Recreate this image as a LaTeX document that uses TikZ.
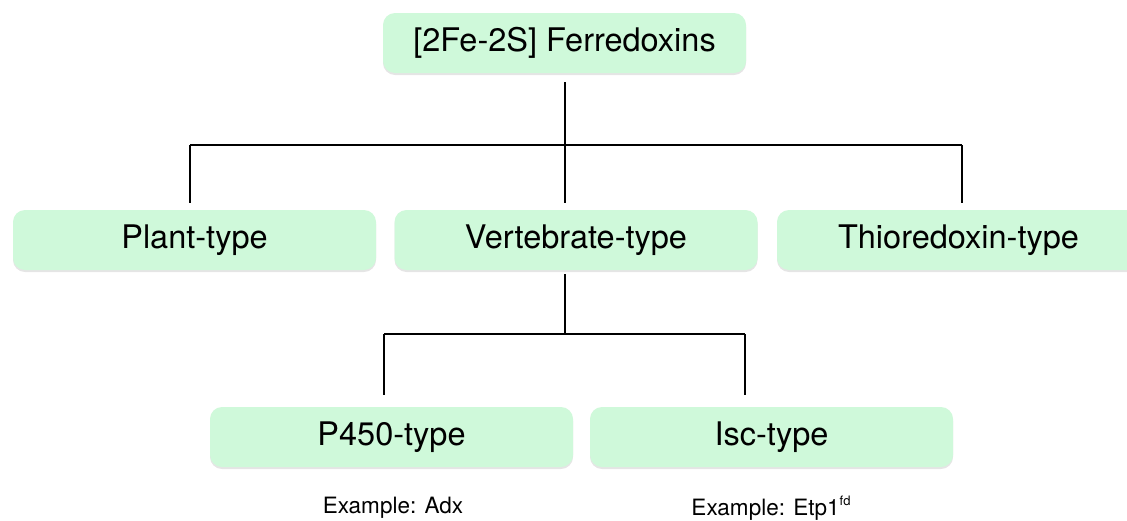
\documentclass[tikz,border=0pt]{standalone}
\usepackage{fontspec}
\setmainfont{TeX Gyre Heros}
\usetikzlibrary{shadows}
\definecolor{boxgreen}{RGB}{207,249,218}
\tikzset{
  fbox/.style={rectangle, rounded corners=12pt, fill=boxgreen, draw=none,
    minimum width=363pt, minimum height=60pt, inner sep=0pt,
    font=\fontsize{32.5}{38}\selectfont,
    drop shadow={shadow xshift=0pt, shadow yshift=-2pt, fill=black, opacity=0.10}},
  conn/.style={line width=2pt, black},
  example/.style={font=\fontsize{22.5}{26}\selectfont, inner sep=0pt}
}
\begin{document}
\begin{tikzpicture}[x=1pt, y=-1pt]
\useasboundingbox (0,0) rectangle (1127,520);
\clip (0,0) rectangle (1127,520);
\fill[white] (0,0) rectangle (1127,520);
% nodes
\node[fbox] (top) at (564.5,43) {[2Fe-2S] Ferredoxins};
\node[fbox] (plant) at (194.5,240) {Plant-type};
\node[fbox] (vert) at (576,240) {Vertebrate-type};
\node[fbox] (thio) at (958.5,240) {Thioredoxin-type};
\node[fbox] (p450) at (391.5,437) {P450-type};
\node[fbox] (isc) at (771.5,437) {Isc-type};
\node[example] (exa) at (393,508) {Example: Adx};
\node[example] (exb) at (771,508) {Example: Etp1\raisebox{0.42em}{\fontsize{13}{13}\selectfont fd}};
% junction coordinates
\coordinate (h1) at (565,145);
\coordinate (h1l) at (190,145);
\coordinate (h1r) at (962,145);
\coordinate (h2) at (565,334);
\coordinate (h2l) at (384,334);
\coordinate (h2r) at (745,334);
% connectors
\draw[conn] ([yshift=-9pt]h1 |- top.south) -- (h1);
\draw[conn] (h1l) -- (h1r);
\draw[conn] (h1l) -- ([yshift=7pt]h1l |- plant.north);
\draw[conn] (h1) -- ([yshift=7pt]h1 |- vert.north);
\draw[conn] (h1r) -- ([yshift=7pt]h1r |- thio.north);
\draw[conn] ([yshift=-4pt]h2 |- vert.south) -- (h2);
\draw[conn] (h2l) -- (h2r);
\draw[conn] (h2l) -- ([yshift=12pt]h2l |- p450.north);
\draw[conn] (h2r) -- ([yshift=12pt]h2r |- isc.north);
\end{tikzpicture}
\end{document}
